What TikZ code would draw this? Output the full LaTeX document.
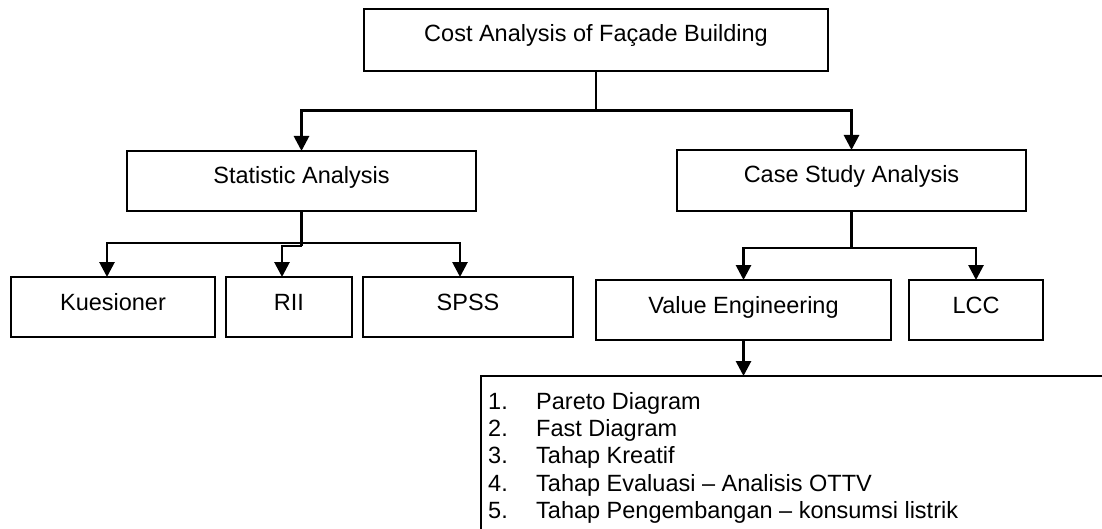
\documentclass[tikz,border=0pt]{standalone}
\usepackage{fontspec}
\setmainfont{Liberation Sans}
\usetikzlibrary{arrows.meta}
\begin{document}
\begin{tikzpicture}[x=1pt,y=-1pt,
  box/.style={draw=black, line width=2pt, rectangle, outer sep=0pt, inner xsep=0pt, inner ysep=0pt,
     minimum height=0pt, text height=33pt, font=\fontsize{23.5}{27.4}\selectfont},
  conn/.style={draw=black, line width=2.8pt},
  arr/.style={conn, -{Triangle[length=15pt,width=15pt]}},
  txt/.style={inner sep=0pt, font=\fontsize{23.5}{27.4}\selectfont}]
\useasboundingbox (0,0) rectangle (1102,529);
\fill[white] (0,0) rectangle (1102,529);
\clip (0,0) rectangle (1102,529);
% boxes
\node[box, anchor=north, minimum width=464pt, text depth=29pt] (top) at (596,9) {Cost Analysis of Façade Building};
\node[box, anchor=north, minimum width=349pt, text depth=27pt] (stat) at (301.5,151) {Statistic Analysis};
\node[box, anchor=north, minimum width=349pt, text depth=28pt] (case) at (851.5,150) {Case Study Analysis};
\node[box, anchor=north, minimum width=204pt, text depth=27pt] (kues) at (113,277) {Kuesioner};
\node[box, anchor=north, minimum width=126pt, text depth=27pt] (rii) at (289,277) {RII};
\node[box, anchor=north, minimum width=210pt, text depth=27pt] (spss) at (468,277) {SPSS};
\node[box, anchor=north, minimum width=295pt, text depth=27pt] (ve) at (743.5,280) {Value Engineering};
\node[box, anchor=north, minimum width=134pt, text depth=27pt] (lcc) at (976,280) {LCC};
\node[box, anchor=north west, minimum width=700pt, minimum height=250pt, text height=0pt, text depth=0pt] (vlist) at (481,376) {};
\begin{scope}
\clip (482,377) rectangle (1102,522);
\node[txt, anchor=base west] (items) at (488,409) {\begin{tabular}[t]{@{}p{48pt}@{}l@{}}
1. & Pareto Diagram\\
2. & Fast Diagram\\
3. & Tahap Kreatif\\
4. & Tahap Evaluasi – Analisis OTTV\\
5. & Tahap Pengembangan – konsumsi listrik
\end{tabular}};
\end{scope}
% connectors: top level
\draw[conn] (top.south) -- ++(0,39.5) coordinate (tj);
\draw[arr] (tj) -| (stat.north);
\draw[arr] (tj) -| (case.north);
% statistic branch
\draw[conn] (stat.south) -- ++(0,35) coordinate (sj);
\coordinate (sh) at (301.5,243);
\draw[arr] (sh) -| ([xshift=-6pt]kues.north);
\draw[arr] (sh) -| ([xshift=-8pt]spss.north);
\draw[arr] (sj) -| ([xshift=-7pt]rii.north);
% case branch
\draw[conn] (case.south) -- ++(0,37) coordinate (cj);
\draw[arr] (cj) -| (ve.north);
\draw[arr] (cj) -| (lcc.north);
% value engineering to list
\draw[arr] (ve.south) -- (ve.south |- vlist.north);
\end{tikzpicture}
\end{document}
